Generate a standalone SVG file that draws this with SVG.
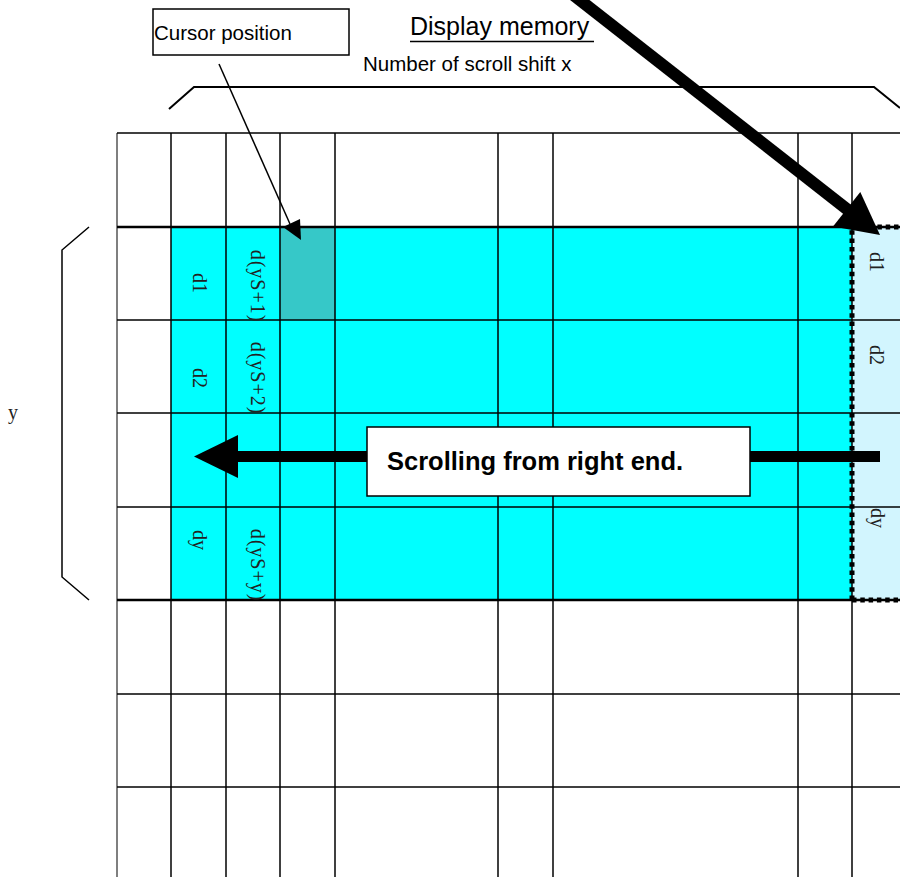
<svg xmlns="http://www.w3.org/2000/svg" width="900" height="877" viewBox="0 0 900 877">
  <style>
    .sans { font-family: "Liberation Sans", Arial, sans-serif; fill: #000; }
    .serif { font-family: "Liberation Serif", "Times New Roman", serif; font-size: 20px; fill: #222; }
    .lbl { text-anchor: middle; }
    .grid line { stroke: #000; stroke-width: 1.5; }
    .thin { fill: none; stroke: #000; stroke-width: 1.5; }
  </style>
  <rect width="900" height="877" fill="#fff"/>

  <!-- filled regions -->
  <g id="scroll-area">
    <rect x="171" y="227" width="681" height="373" fill="#00FFFF"/>
    <rect x="280" y="227" width="55" height="93" fill="#36C8C8"/>
    <rect x="852" y="227" width="48" height="373" fill="#D2F5FE"/>
  </g>

  <!-- display memory grid -->
  <g id="grid" class="grid">
    <line x1="117" y1="133" x2="117" y2="877" style="stroke:#555"/>
    <line x1="171" y1="133" x2="171" y2="877"/>
    <line x1="226" y1="133" x2="226" y2="877"/>
    <line x1="280" y1="133" x2="280" y2="877"/>
    <line x1="335" y1="133" x2="335" y2="877"/>
    <line x1="498" y1="133" x2="498" y2="877"/>
    <line x1="553" y1="133" x2="553" y2="877"/>
    <line x1="798" y1="133" x2="798" y2="877"/>
    <line x1="852" y1="133" x2="852" y2="877"/>
    <line x1="117" y1="133" x2="900" y2="133"/>
    <line x1="117" y1="227" x2="900" y2="227" style="stroke-width:2.5"/>
    <line x1="117" y1="320" x2="900" y2="320"/>
    <line x1="117" y1="413" x2="900" y2="413"/>
    <line x1="117" y1="507" x2="900" y2="507"/>
    <line x1="117" y1="600" x2="900" y2="600" style="stroke-width:2.5"/>
    <line x1="117" y1="694" x2="900" y2="694"/>
    <line x1="117" y1="787" x2="900" y2="787"/>
  </g>

  <!-- dashed new column -->
  <g id="new-column">
    <path d="M852,600 V227 H900" fill="none" stroke="#000" stroke-width="5" stroke-dasharray="4.5 3.8"/>
    <path d="M852,600 H900" fill="none" stroke="#000" stroke-width="5" stroke-dasharray="4.5 3.8"/>
  </g>

  <!-- cell labels -->
  <g id="cell-labels" class="serif lbl">
    <text transform="translate(193,283) rotate(90)">d1</text>
    <text transform="translate(193,378) rotate(90)">d2</text>
    <text transform="translate(193,540) rotate(90)">dy</text>
    <text transform="translate(251,286) rotate(90)" letter-spacing="1">d(yS+1)</text>
    <text transform="translate(251,378) rotate(90)" letter-spacing="1">d(yS+2)</text>
    <text transform="translate(251,565) rotate(90)" letter-spacing="1">d(yS+y)</text>
    <text transform="translate(870,262) rotate(90)">d1</text>
    <text transform="translate(870,355) rotate(90)">d2</text>
    <text transform="translate(871,518) rotate(90)">dy</text>
  </g>

  <!-- brackets -->
  <g id="x-bracket">
    <polyline class="thin" style="stroke-width:2" points="169,109 194,87 874,87 900,108"/>
    <text class="sans" x="363" y="71" font-size="20.5">Number of scroll shift x</text>
  </g>
  <g id="y-bracket">
    <polyline class="thin" points="89,227 62,250 62,577 89,600"/>
    <text class="serif lbl" x="13" y="419">y</text>
  </g>

  <!-- title -->
  <g id="title">
    <text class="sans" x="410" y="35" font-size="25">Display memory</text>
    <line x1="410" y1="41.5" x2="594" y2="41.5" stroke="#000" stroke-width="1.5"/>
  </g>

  <!-- cursor position label -->
  <g id="cursor-box">
    <rect x="153" y="9" width="196" height="46" fill="#fff" stroke="#000" stroke-width="1.5"/>
    <text class="sans" x="154" y="40" font-size="20.5">Cursor position</text>
  </g>

  <!-- connectors -->
  <g id="connectors">
    <line x1="219" y1="64" x2="290" y2="224" stroke="#000" stroke-width="1.5"/>
    <polygon points="283,227 300,219 301,240" fill="#000"/>
    <line x1="567" y1="-10" x2="848" y2="210" stroke="#000" stroke-width="12"/>
    <polygon points="880,235 833,226.5 860.3,191.9" fill="#000"/>
    <rect x="236" y="451" width="644" height="11" fill="#000"/>
    <polygon points="194,456.5 238,435 238,478" fill="#000"/>
  </g>

  <!-- scrolling label -->
  <g id="scrolling-box">
    <rect x="367" y="427" width="383" height="69" fill="#fff" stroke="#000" stroke-width="1.5"/>
    <text class="sans" x="387" y="470" font-size="25.5" font-weight="bold">Scrolling from right end.</text>
  </g>
</svg>
